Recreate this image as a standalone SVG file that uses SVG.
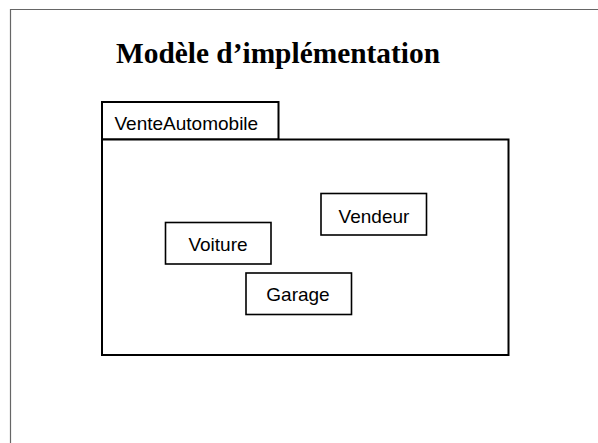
<svg xmlns="http://www.w3.org/2000/svg" width="598" height="443" viewBox="0 0 598 443">
<style>
.lbl{font-family:"Liberation Sans",Arial,sans-serif;font-size:19px;fill:#000}
.box{fill:#fff;stroke:#000;stroke-width:1.6}
.pkg{fill:#fff;stroke:#000;stroke-width:2}
</style>
<rect width="598" height="443" fill="#fff"/>
<path d="M10.5,443 V9.5 H598" fill="none" stroke="#666" stroke-width="1.2"/>
<text x="116" y="63" font-family="'Liberation Serif','Times New Roman',serif" font-weight="bold" font-size="28.5" textLength="324" lengthAdjust="spacingAndGlyphs">Modèle d’implémentation</text>
<g id="VenteAutomobile">
<rect class="pkg" x="102" y="102" width="176.5" height="37.5"/>
<rect class="pkg" x="102" y="139.5" width="406.5" height="215.5"/>
<text class="lbl" x="114.5" y="129.5">VenteAutomobile</text>
</g>
<g id="Vendeur">
<rect class="box" x="321" y="193.5" width="105.5" height="41.5"/>
<text class="lbl" x="374" y="222.5" text-anchor="middle">Vendeur</text>
</g>
<g id="Voiture">
<rect class="box" x="165.5" y="222.5" width="105.5" height="41.5"/>
<text class="lbl" x="218" y="250.5" text-anchor="middle">Voiture</text>
</g>
<g id="Garage">
<rect class="box" x="246" y="273" width="105.5" height="41.5"/>
<text class="lbl" x="298" y="301" text-anchor="middle">Garage</text>
</g>
<g id="connectors"></g>
</svg>
